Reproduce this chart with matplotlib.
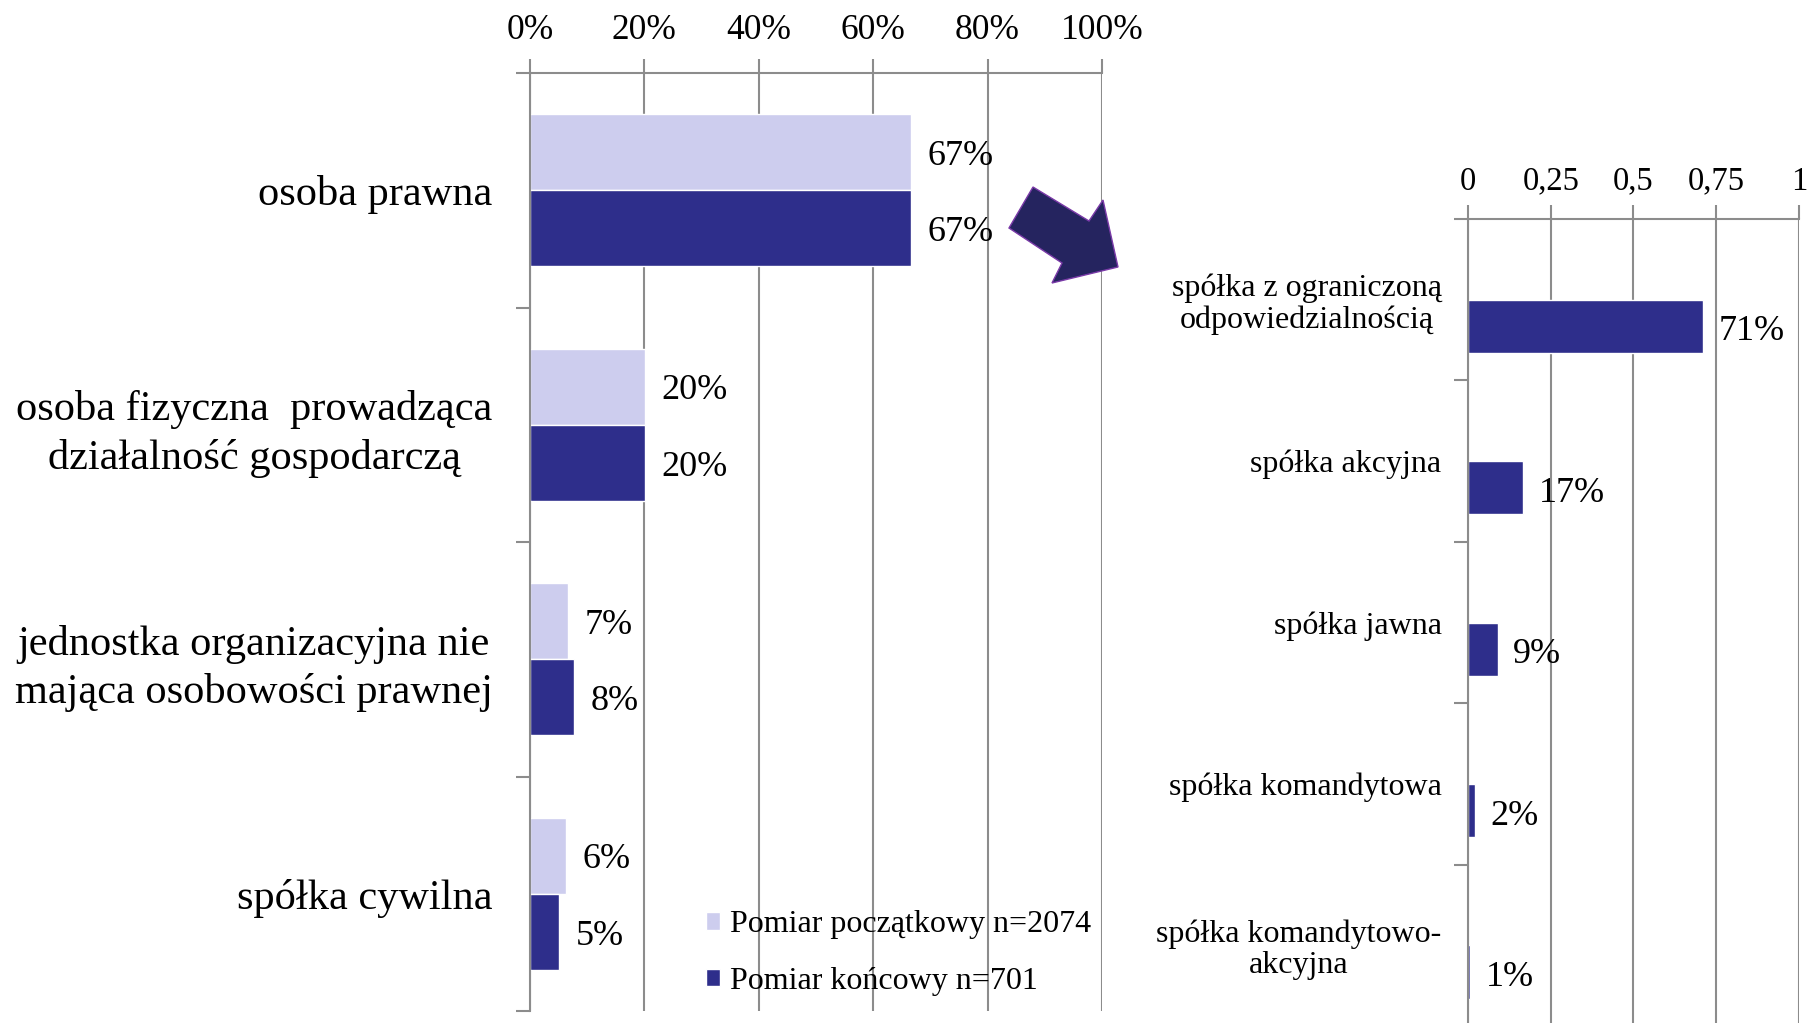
import numpy as np
import matplotlib
matplotlib.use("Agg")
import matplotlib.pyplot as plt
from matplotlib.patches import Polygon, Patch

plt.rcParams['font.family'] = ['Liberation Serif', 'DejaVu Serif']

# ---------------- data ----------------
left_categories = [
    "osoba prawna",
    "osoba fizyczna  prowadząca\ndziałalność gospodarczą",
    "jednostka organizacyjna nie\nmająca osobowości prawnej",
    "spółka cywilna",
]
initial_values = [66.6, 20.1, 6.6, 6.3]   # Pomiar początkowy n=2074 (%)
final_values = [66.6, 20.1, 7.7, 5.1]     # Pomiar końcowy n=701 (%)
left_xticks = [0, 20, 40, 60, 80, 100]
left_xticklabels = ["0%", "20%", "40%", "60%", "80%", "100%"]

right_categories = [
    "spółka z ograniczoną\nodpowiedzialnością",
    "spółka akcyjna",
    "spółka jawna",
    "spółka komandytowa",
    "spółka komandytowo-\nakcyjna",
]
right_values = [0.711, 0.167, 0.09, 0.022, 0.007]
right_xticks = [0, 0.25, 0.5, 0.75, 1]
right_xticklabels = ["0", "0,25", "0,5", "0,75", "1"]

legend_labels = ["Pomiar początkowy n=2074", "Pomiar końcowy n=701"]

# ---------------- style ----------------
LIGHT = "#CDCDEE"
DARK = "#2E2E8B"
GRID = "#8C8C8C"
W, H = 1808, 1023

fig = plt.figure(figsize=(W / 100, H / 100), dpi=100)


def fx(px):
    return px / W


def fy(py):
    return 1 - py / H


def style_axes(ax, n, xticks, xticklabels, xfs, xpad, ylabels, yfs, ypad, ylinespacing):
    ax.set_ylim(n - 0.5, -0.5)
    ax.xaxis.tick_top()
    ax.set_xticks(xticks)
    ax.set_xticklabels(xticklabels, fontsize=xfs)
    ax.tick_params(axis='x', which='major', length=10, width=1.5, color=GRID, pad=xpad)
    ax.set_yticks(range(n))
    ax.set_yticklabels(ylabels, fontsize=yfs, multialignment='center', linespacing=ylinespacing)
    ax.tick_params(axis='y', which='major', length=0, pad=ypad)
    ax.set_yticks(np.arange(-0.5, n), minor=True)
    ax.tick_params(axis='y', which='minor', length=10, width=1.5, color=GRID)
    ax.grid(axis='x', color=GRID, linewidth=1.5)
    ax.set_axisbelow(True)
    for s in ['right', 'bottom']:
        ax.spines[s].set_visible(False)
    for s in ['top', 'left']:
        ax.spines[s].set_color(GRID)
        ax.spines[s].set_linewidth(1.5)


# ---------------- left chart ----------------
ax1 = fig.add_axes([fx(530), fy(1011), fx(1102) - fx(530), fy(73) - fy(1011)])
n1 = len(left_categories)
y1 = np.arange(n1)
bh = 0.325
b_init = ax1.barh(y1 - bh / 2, initial_values, height=bh, color=LIGHT, edgecolor='white', linewidth=1)
b_final = ax1.barh(y1 + bh / 2, final_values, height=bh, color=DARK, edgecolor='white', linewidth=1)
ax1.set_xlim(0, 100)
style_axes(ax1, n1, left_xticks, left_xticklabels, 25.5, 9, left_categories, 30.5, 27, 1.32)
for cont, vals in ((b_init, initial_values), (b_final, final_values)):
    for t in ax1.bar_label(cont, labels=[f"{v:.0f}%" for v in vals], padding=12, fontsize=26):
        t.set_y(-3)

handles = [Patch(facecolor=LIGHT, edgecolor='white'), Patch(facecolor=DARK, edgecolor='white')]
fig.legend(handles, legend_labels, loc='center left', bbox_to_anchor=(fx(706), fy(953)),
           bbox_transform=fig.transFigure, frameon=False, fontsize=23,
           handlelength=0.45, handleheight=0.45, handletextpad=0.3,
           labelspacing=0.85, borderpad=0, borderaxespad=0)

# ---------------- right chart ----------------
ax2 = fig.add_axes([fx(1468), fy(1026), fx(1799) - fx(1468), fy(219) - fy(1026)])
n2 = len(right_categories)
y2 = np.arange(n2)
rh = 0.33
b_right = ax2.barh(y2 + rh / 2, right_values, height=rh, color=DARK, edgecolor='white', linewidth=1)
ax2.set_xlim(0, 1)
style_axes(ax2, n2, right_xticks, right_xticklabels, 23.5, 6, right_categories, 23, 19, 1.1)
for t in ax2.bar_label(b_right, labels=[f"{v * 100:.0f}%" for v in right_values], padding=11, fontsize=26):
    t.set_y(-4)

# ---------------- arrow ----------------
arrow_px = [(1033, 187), (1009, 228), (1062, 263), (1052, 283),
            (1118, 267), (1103, 200), (1089, 221)]
arrow = Polygon([(fx(x), fy(y)) for x, y in arrow_px], closed=True,
                transform=fig.transFigure, facecolor="#25245F", edgecolor="#7A3AA8",
                linewidth=1, zorder=10)
fig.patches.append(arrow)

fig.savefig("out.png", dpi=100)
